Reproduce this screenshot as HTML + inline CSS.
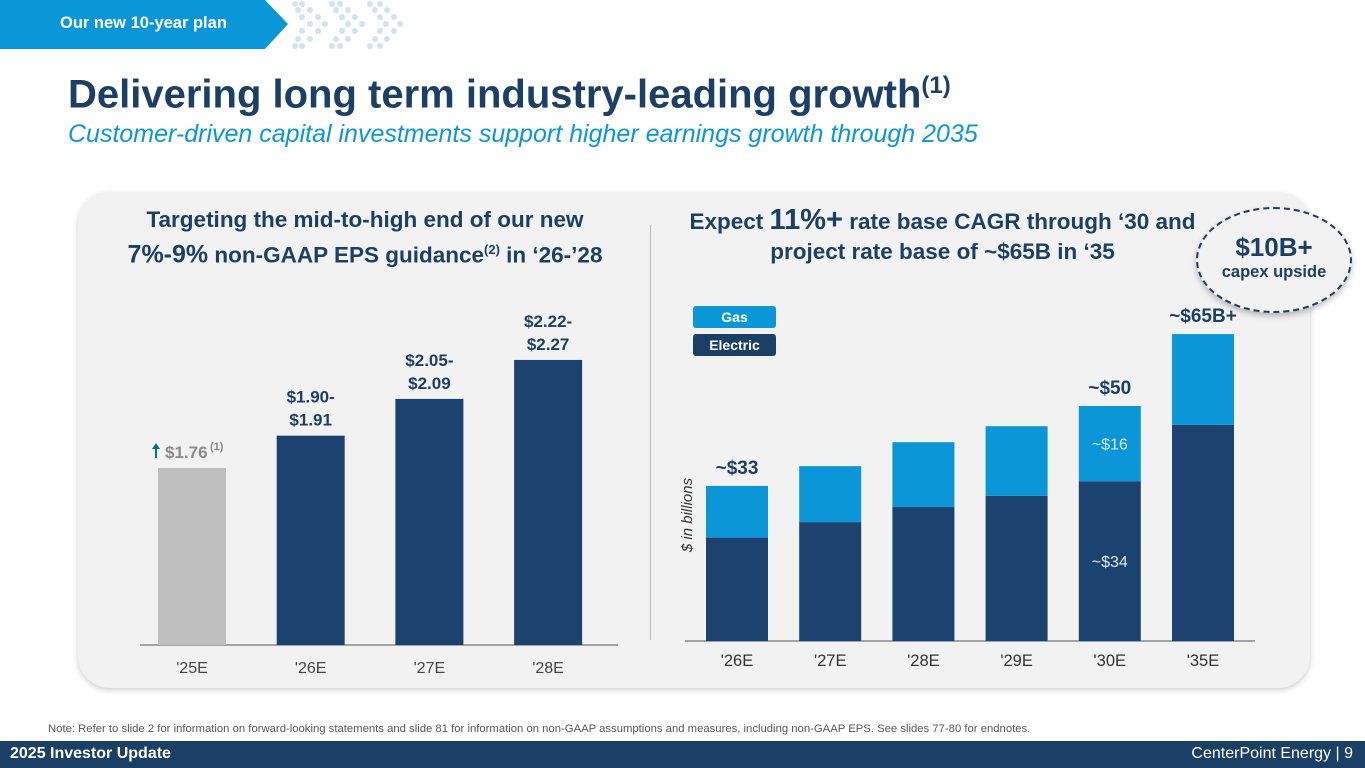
<!DOCTYPE html>
<html><head><meta charset="utf-8"><style>
*{margin:0;padding:0;box-sizing:border-box}
body{width:1365px;height:768px;overflow:hidden;background:#fff;font-family:"Liberation Sans",Arial,sans-serif;position:relative}
.abs{position:absolute}
</style></head><body>
<div class="abs" style="left:0;top:0;width:288px;height:49px;background:#0b96d8;clip-path:polygon(0 0,265px 0,288px 24px,265px 49px,0 49px)"></div>
<div class="abs" style="left:60px;top:14px;color:#fff;font-weight:bold;font-size:16.5px">Our new 10-year plan</div>
<svg class="abs" style="left:280px;top:0" width="150" height="52">
<g fill="#cfe3f0">
<circle cx="15" cy="4" r="3"/><circle cx="22" cy="4" r="3"/><circle cx="52" cy="4" r="3"/><circle cx="60" cy="4" r="3"/><circle cx="90" cy="4" r="3"/><circle cx="100" cy="4" r="3"/>
<circle cx="18" cy="10" r="3"/><circle cx="30" cy="10" r="3"/><circle cx="56" cy="10" r="3"/><circle cx="68" cy="10" r="3"/><circle cx="95" cy="10" r="3"/><circle cx="107" cy="10" r="3"/>
<circle cx="22" cy="17" r="3"/><circle cx="38" cy="17" r="3"/><circle cx="62" cy="17" r="3"/><circle cx="75" cy="17" r="3"/><circle cx="100" cy="17" r="3"/><circle cx="114" cy="17" r="3"/>
<circle cx="30" cy="24" r="3"/><circle cx="45" cy="24" r="3"/><circle cx="68" cy="24" r="3"/><circle cx="82" cy="24" r="3"/><circle cx="106" cy="24" r="3"/><circle cx="120" cy="24" r="3"/>
<circle cx="22" cy="31" r="3"/><circle cx="38" cy="31" r="3"/><circle cx="62" cy="31" r="3"/><circle cx="75" cy="31" r="3"/><circle cx="100" cy="31" r="3"/><circle cx="114" cy="31" r="3"/>
<circle cx="18" cy="39" r="3"/><circle cx="30" cy="39" r="3"/><circle cx="56" cy="39" r="3"/><circle cx="68" cy="39" r="3"/><circle cx="95" cy="39" r="3"/><circle cx="107" cy="39" r="3"/>
<circle cx="15" cy="46" r="3"/><circle cx="22" cy="46" r="3"/><circle cx="52" cy="46" r="3"/><circle cx="60" cy="46" r="3"/><circle cx="90" cy="46" r="3"/><circle cx="100" cy="46" r="3"/>
</g></svg>
<div class="abs" style="left:68px;top:72px;font-size:40px;font-weight:bold;color:#1c3f66">Delivering long term industry-leading growth<sup style="font-size:24px">(1)</sup></div>
<div class="abs" style="left:68px;top:120px;font-size:25px;font-style:italic;color:#0b96d8">Customer-driven capital investments support higher earnings growth through 2035</div>
<div class="abs" style="left:78px;top:192px;width:1232px;height:496px;background:#f2f2f2;border-radius:32px;box-shadow:0 2px 6px rgba(0,0,0,0.2)"></div>
<div class="abs" style="left:650px;top:225px;width:1px;height:415px;background:#bbb"></div>
<div class="abs" style="left:90px;top:205px;width:550px;text-align:center;font-size:22.5px;font-weight:bold;color:#1c3f66;line-height:30px">Targeting the mid-to-high end of our new<br><span style="font-size:25px">7%-9%</span> non-GAAP EPS guidance<sup style="font-size:13px">(2)</sup> in ‘26-’28</div>
<div class="abs" style="left:655px;top:205px;width:575px;text-align:center;font-size:22.5px;font-weight:bold;color:#1c3f66;line-height:30px">Expect <span style="font-size:29px">11%+</span> rate base CAGR through ‘30 and<br>project rate base of ~$65B in ‘35</div>
<div class="abs" style="left:1196px;top:207px;width:156px;height:106px;border-radius:50%;background:#f2f2f2;border:2px dashed #1c3f66;text-align:center;color:#1c3f66;font-weight:bold;box-shadow:0 3px 6px rgba(0,0,0,0.25)"><div style="font-size:26px;margin-top:23px">$10B+</div><div style="font-size:16.5px">capex upside</div></div>
<div class="abs" style="left:693px;top:306px;width:83px;height:22px;background:#0b96d8;border-radius:3px;color:#fff;font-weight:bold;font-size:14px;text-align:center;line-height:22px">Gas</div>
<div class="abs" style="left:693px;top:334px;width:83px;height:22px;background:#1c3f66;border-radius:3px;color:#fff;font-weight:bold;font-size:14px;text-align:center;line-height:22px">Electric</div>
<svg id="chart" class="abs" style="left:0;top:0" width="1365" height="768"></svg>
<div class="abs" style="left:48px;top:723px;font-size:11.3px;color:#555">Note: Refer to slide 2 for information on forward-looking statements and slide 81 for information on non-GAAP assumptions and measures, including non-GAAP EPS. See slides 77-80 for endnotes.</div>
<div class="abs" style="left:0;top:741px;width:1365px;height:27px;background:#1c3f66"></div>
<div class="abs" style="left:10px;top:745px;font-size:16px;font-weight:bold;color:#fff">2025 Investor Update</div>
<div class="abs" style="right:12px;top:745px;font-size:16px;color:#fff">CenterPoint Energy | 9</div>
<script>
const epsCats=["'25E","'26E","'27E","'28E"];
const epsVals=[1.76,1.905,2.07,2.245];
const epsLabels=[["$1.76"],["$1.90-","$1.91"],["$2.05-","$2.09"],["$2.22-","$2.27"]];
const rbCats=["'26E","'27E","'28E","'29E","'30E","'35E"];
const rbElectric=[22,25.3,28.5,30.9,34,46];
const rbGas=[11,11.9,13.8,14.8,16,19.3];
const rbTopLabels=["~$33","","","","~$50","~$65B+"];
const svg=document.getElementById('chart');
const NS='http://www.w3.org/2000/svg';
function mk(t,a,txt){const e=document.createElementNS(NS,t);for(const k in a)e.setAttribute(k,a[k]);if(txt!=null)e.textContent=txt;svg.appendChild(e);return e;}
const lBase=645;
function ly(v){return lBase-222.7*(v-0.965);}
function lx(i){return 158+i*118.7;}
let ax=mk('line',{x1:140,x2:618,y1:lBase,y2:lBase,stroke:'#555','stroke-width':1});

epsVals.forEach((v,i)=>{
 const r=mk('rect',{x:lx(i),y:ly(v),width:68,height:lBase-ly(v),fill:i==0?'#bfbfbf':'#1c4370'});
 
 
 const t=mk('text',{x:lx(i)+34,y:lBase+28,'text-anchor':'middle','font-size':16,fill:'#444'},epsCats[i]);
 
 
 const L=epsLabels[i];
 L.forEach((s,j)=>{
  const y=ly(v)-10-(L.length-1-j)*23;
  const tt=mk('text',i==0?{x:lx(i)+7,y:y,'text-anchor':'start','font-size':17,'font-weight':'bold',fill:'#8a8a8a'}:{x:lx(i)+34,y:y,'text-anchor':'middle','font-size':17,'font-weight':'bold',fill:'#1c3f66'},s);
  
  
 });
 if(i==0){
  const sp=mk('text',{x:lx(i)+52,y:ly(v)-18,'font-size':11,'font-weight':'bold',fill:'#8a8a8a'},'(1)');
  
  
  const ar=mk('path',{d:`M${lx(i)-2} ${ly(v)-25} l-4 6 h3 v9 h2 v-9 h3 z`,fill:'#0d6e7a'});
  
  
 }
});
const rBase=641;
function ry(v){return rBase-4.7*v;}
function rx(i){return 706+i*93.2;}
let ax2=mk('line',{x1:685,x2:1255,y1:rBase,y2:rBase,stroke:'#555','stroke-width':1});

rbCats.forEach((c,i)=>{
 const e=rbElectric[i],g=rbGas[i];
 const r1=mk('rect',{x:rx(i),y:ry(e),width:62,height:rBase-ry(e),fill:'#1c4370'});
 
 
 const r2=mk('rect',{x:rx(i),y:ry(e+g),width:62,height:ry(e)-ry(e+g),fill:'#0b96d8'});
 
 
 const t=mk('text',{x:rx(i)+31,y:rBase+25,'text-anchor':'middle','font-size':16.5,fill:'#333'},c);
 
 
 if(rbTopLabels[i]){
  const tl=mk('text',{x:rx(i)+31,y:ry(e+g)-12,'text-anchor':'middle','font-size':19,'font-weight':'bold',fill:'#1c3f66'},rbTopLabels[i]);
  
  
 }
 if(i==4){
  const a=mk('text',{x:rx(i)+31,y:(ry(e)+ry(e+g))/2+6,'text-anchor':'middle','font-size':16,fill:'#dde8f2'},'~$'+g);
  
  
  const b=mk('text',{x:rx(i)+31,y:(ry(e)+rBase)/2+6,'text-anchor':'middle','font-size':16,fill:'#dde8f2'},'~$'+e);
  
  
 }
});
const yt=mk('text',{x:0,y:0,transform:'translate(692,515) rotate(-90)','text-anchor':'middle','font-size':15,'font-style':'italic',fill:'#333'},'$ in billions');


</script>
</body></html>
